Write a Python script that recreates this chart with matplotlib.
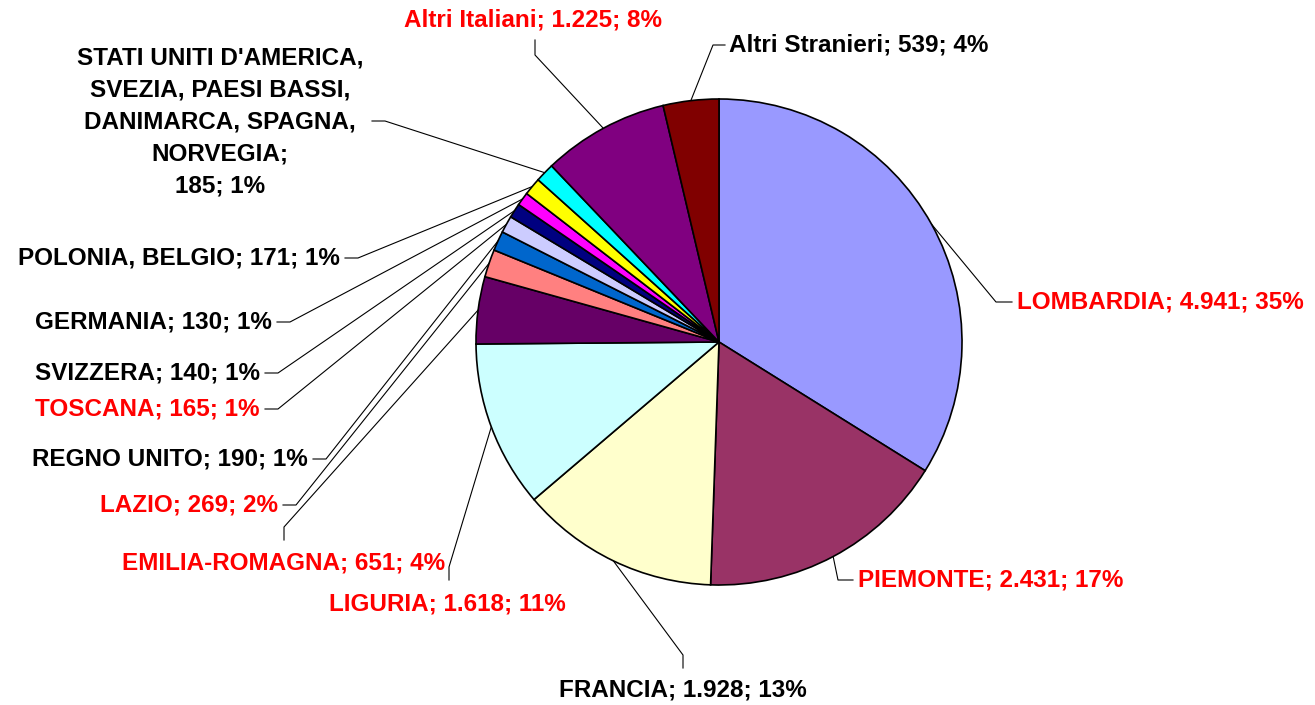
"""Pie chart of arrivals by origin, with Excel-style leader lines
"""

import matplotlib
matplotlib.use('Agg')
import matplotlib.pyplot as plt
import numpy as np

# slices, clockwise from 12 o'clock
names = ['LOMBARDIA', 'PIEMONTE', 'FRANCIA', 'LIGURIA', 'EMILIA-ROMAGNA', 'LAZIO',
         'REGNO UNITO', 'TOSCANA', 'SVIZZERA', 'GERMANIA', 'POLONIA, BELGIO',
         "STATI UNITI D'AMERICA,\nSVEZIA, PAESI BASSI,\nDANIMARCA, SPAGNA,\nNORVEGIA;\n",
         'Altri Italiani', 'Altri Stranieri']
values = [4941, 2431, 1928, 1618, 651, 269, 190, 165, 140, 130, 171, 185, 1225, 539]
pcts = [35, 17, 13, 11, 4, 2, 1, 1, 1, 1, 1, 1, 8, 4]
italian = [True, True, False, True, True, True, False, True, False, False, False, False, True, False]

colors = ['#9999FF', '#993366', '#FFFFCC', '#CCFFFF', '#660066', '#FF8080', '#0066CC',
          '#CCCCFF', '#000080', '#FF00FF', '#FFFF00', '#00FFFF', '#800080', '#800000']

# label layout in pixels (y down): elbow of leader, end of short tick, text anchor, alignment
elbows = [(996, 302), (838, 580), (683, 655), (449, 567), (284, 527), (296, 505),
          (326, 459), (278, 409), (278, 373), (290, 322), (358, 258), (385, 121),
          (535, 55), (713, 45)]
ticks = [(1012, 302), (853, 580), (683, 668), (449, 580), (284, 540), (283, 505),
         (313, 459), (265, 409), (265, 373), (277, 322), (345, 258), (372, 121),
         (535, 40), (725, 45)]
text_pos = [(1017, 302), (858, 580), (683, 690), (447, 604), (284, 563), (278, 505),
            (308, 459), (260, 409), (260, 373), (272, 322), (340, 258), (220, 122),
            (533, 20), (729, 45)]
text_ha = ['left', 'left', 'center', 'center', 'center', 'right', 'right', 'right',
           'right', 'right', 'right', 'center', 'center', 'left']

plt.rcParams['font.family'] = ['Liberation Sans', 'DejaVu Sans']

fig = plt.figure(figsize=(13.15, 7.05), dpi=100)
ax = fig.add_axes([0, 0, 1, 1])

cx, cy, r = 719, 342, 243
# y axis runs downward, so counterclock=True draws clockwise on screen
wedges, _ = ax.pie(values, colors=colors, startangle=-90, counterclock=True,
                   center=(cx, cy), radius=r,
                   wedgeprops=dict(edgecolor='black', linewidth=1.2))
ax.set_xlim(0, 1315)
ax.set_ylim(705, 0)
ax.set_aspect('equal')
ax.axis('off')

for i, w in enumerate(wedges):
    mid = np.deg2rad((w.theta1 + w.theta2) / 2)
    px = cx + r * np.cos(mid)
    py = cy + r * np.sin(mid)
    ax.plot([px, elbows[i][0], ticks[i][0]], [py, elbows[i][1], ticks[i][1]],
            color='black', linewidth=0.8, zorder=0)
    val = f"{values[i]:,}".replace(',', '.')
    if names[i].endswith('\n'):
        label = f"{names[i]}{val}; {pcts[i]}%"
    else:
        label = f"{names[i]}; {val}; {pcts[i]}%"
    ax.text(text_pos[i][0], text_pos[i][1], label, ha=text_ha[i], va='center',
            multialignment='center', linespacing=1.5,
            fontsize=17.5, fontweight='bold',
            color='#FF0000' if italian[i] else 'black')

fig.savefig('out.png', dpi=100)
